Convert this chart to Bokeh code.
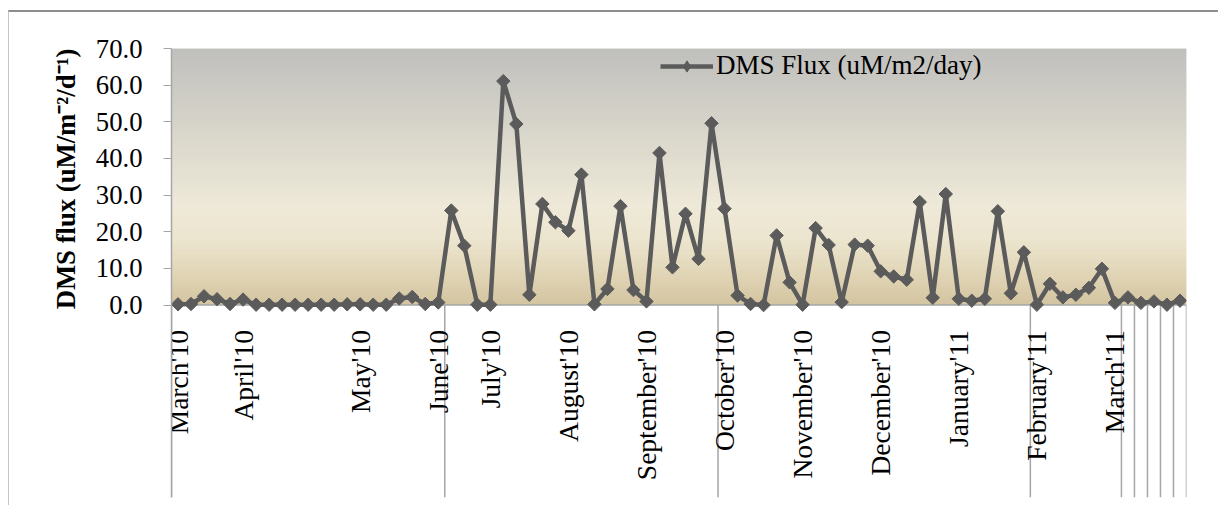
from math import pi
import numpy as np
from bokeh.plotting import figure
from bokeh.models import (Range1d, FixedTicker, NumeralTickFormatter, Legend,
                          LegendItem, Title, CDSView, IndexFilter,
                          ColumnDataSource)
from bokeh.core.properties import value
from bokeh.embed import file_html
from bokeh.resources import INLINE

# ---------------- data ----------------
flux = [0.2, 0.3, 2.4, 1.6, 0.3, 1.5, 0.1, 0.1, 0.1, 0.1, 0.1, 0.1, 0.1, 0.2, 0.2,
        0.1, 0.1, 1.8, 2.2, 0.3, 0.7,
        25.8, 16.2, 0.1, 0.1, 61.1, 49.4, 2.8, 27.6, 22.6, 20.3, 35.6, 0.2, 4.4,
        27.0, 4.1, 1.0, 41.5, 10.3, 24.9,
        12.6, 49.6, 26.3, 2.6, 0.3, 0.0, 19.0, 6.2, 0.1, 21.0, 16.4, 0.8, 16.5,
        16.2, 9.2, 7.8, 6.9, 28.1, 2.0,
        30.3, 1.7, 1.2, 1.7, 25.6, 3.2, 14.4, 0.1, 5.8, 2.1, 2.8, 4.7, 9.9, 0.6,
        2.1, 0.6, 1.0, 0.1, 1.2]
sample_pos = list(range(len(flux)))

month_labels = ["March'10", "April'10", "May'10", "June'10", "July'10",
                "August'10", "September'10", "October'10", "November'10",
                "December'10", "January'11", "February'11", "March'11"]
month_label_pos = [0, 5, 14, 20, 24, 30, 36, 42, 48, 54, 60, 66, 72]
group_boundaries = [0, 21, 42, 66, 73, 74, 75, 76, 77, 78]
y_ticks = [0, 10, 20, 30, 40, 50, 60, 70]

FONT = "Liberation Serif"
X0, X1 = -0.5, len(flux) - 0.5
YMIN, YMAX = -52.5, 70

p = figure(width=1210, height=495, output_backend="svg", toolbar_location=None,
           x_range=Range1d(X0, X1), y_range=Range1d(YMIN, YMAX),
           x_axis_location=None,
           min_border_left=162, min_border_right=33, min_border_top=36,
           min_border_bottom=10,
           background_fill_color="white", border_fill_color="white",
           outline_line_color=None,
           styles={"border-top": "2px solid #8e8e8e",
                   "border-left": "1px solid #c4c4c4",
                   "margin-top": "10px", "margin-left": "8px"})
p.grid.visible = False

# ---------------- gradient plot-area background ----------------
stop_v = [0, 8, 18, 27, 45, 70]
stop_c = np.array([(211, 196, 160), (224, 212, 181), (236, 229, 207),
                   (238, 233, 216), (219, 216, 204), (191, 191, 189)], float)
edges = np.linspace(0, YMAX, 141)
mids = (edges[:-1] + edges[1:]) / 2
cols = []
for m in mids:
    rgb = [np.interp(m, stop_v, stop_c[:, k]) for k in range(3)]
    cols.append("#%02x%02x%02x" % tuple(int(round(c)) for c in rgb))
tops = np.minimum(edges[1:] + 0.5, YMAX)
p.quad(left=X0, right=X1, bottom=edges[:-1], top=tops,
       fill_color=cols, line_color=None)

# x axis line and category group lines
p.segment(x0=X0, y0=0, x1=X1, y1=0, line_color="#a6a6a6", line_width=1.5)
bx = [b - 0.5 for b in group_boundaries]
p.segment(x0=bx, y0=0, x1=bx, y1=YMIN, line_color="#a6a6a6", line_width=1.5)

# month labels
p.text(x=month_label_pos, y=0, text=month_labels, angle=pi / 2,
       text_align="right", text_baseline="middle", y_offset=25,
       text_font=value(FONT), text_font_size="27.5px", text_color="black")

# ---------------- series ----------------
GRAY = "#5b5b5b"
src = ColumnDataSource(dict(x=sample_pos, y=flux))
r_line = p.line("x", "y", source=src, line_color=GRAY, line_width=4.5)
# legend key renderer (a diamond hidden under the first plotted marker)
r_key = p.scatter("x", "y", source=src, marker="diamond", size=8,
                  fill_color=GRAY, line_color=GRAY,
                  view=CDSView(filter=IndexFilter(indices=[0])))
r_mark = p.scatter("x", "y", source=src, marker="square", angle=pi / 4,
                   size=9.5, fill_color=GRAY, line_color=GRAY)

legend = Legend(items=[LegendItem(label="DMS Flux (uM/m2/day)",
                                  renderers=[r_line, r_key])],
                location=(489, 416), glyph_width=53, glyph_height=28,
                label_standoff=3, padding=0, spacing=0, margin=0,
                label_text_font=FONT, label_text_font_size="27px",
                label_text_color="black",
                background_fill_alpha=0, border_line_alpha=0)
p.add_layout(legend)

# ---------------- y axis ----------------
ax = p.yaxis[0]
ax.ticker = FixedTicker(ticks=y_ticks, minor_ticks=[])
ax.formatter = NumeralTickFormatter(format="0.0")
ax.major_label_text_font = FONT
ax.major_label_text_font_size = "26.7px"
ax.major_label_text_color = "black"
ax.major_label_standoff = 21
ax.major_tick_out = 8
ax.major_tick_in = 0
ax.minor_tick_out = 0
ax.minor_tick_in = 0
ax.major_tick_line_color = "#a6a6a6"
ax.axis_line_color = "#a6a6a6"
ax.axis_line_width = 1.5

ylab = Title(text="DMS flux (uM/m\u207b\u00b2/d\u207b\u00b9)", align="right",
             text_font=FONT, text_font_style="bold", text_font_size="26.7px",
             text_color="black", standoff=24)
p.add_layout(ylab, "left")

open("out.html", "w").write(file_html(p, INLINE))
